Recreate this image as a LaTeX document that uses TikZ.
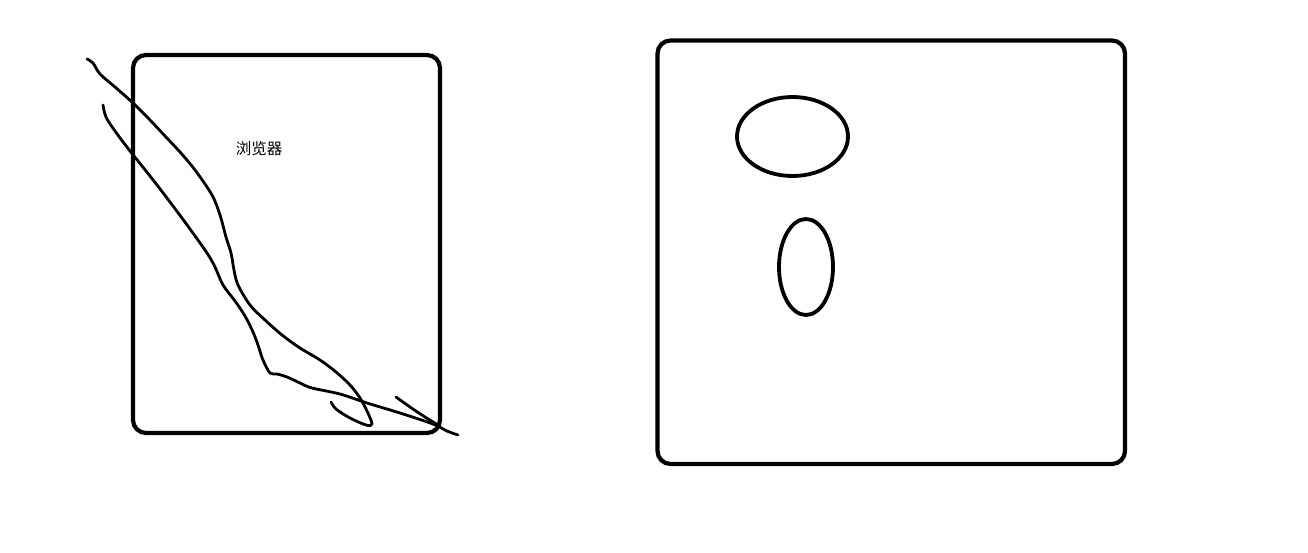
\documentclass[tikz,border=0pt]{standalone}
\usepackage{fontspec}
\newfontfamily\cjk{Noto Sans CJK SC}
\begin{document}
\begin{tikzpicture}[x=1pt,y=-1pt,
  frame/.style={draw=black,line width=4.2pt,rounded corners=13pt},
  scribble/.style={draw=black,line width=2.8pt,line cap=round,line join=round},
  lbl/.style={font=\cjk\fontsize{15.5}{17}\selectfont,inner sep=0pt}]
\useasboundingbox (0,0) rectangle (1308,552);
\fill[white] (0,0) rectangle (1308,552);
% left frame
\draw[frame] (133,55) rectangle (440,433);
\node[lbl] (browser) at (259,148.5) {浏览器};
% right frame
\draw[frame] (657.5,40.5) rectangle (1125,464);
\draw[line width=3.8pt] (792.5,136.5) ellipse [x radius=55.5, y radius=39.5];
\draw[line width=3.8pt] (806,267) ellipse [x radius=27, y radius=48];
% scribbles
\draw[scribble] plot[smooth,tension=0.55] coordinates {
 (87,59) (93,63) (100,74) (115,87) (133,103) (150,120) (165,136) (180,152)
 (195,170) (212,195) (220,215) (226,237) (231,253) (234,270) (238,285)
 (250,305) (265,320) (282,335) (300,348) (320,360) (336,372) (350,385)
 (360,398) (367,411) (372,424) (366,425) (350,418) (336,409) (331,402)};
\draw[scribble] plot[smooth,tension=0.55] coordinates {
 (103,105) (106,117) (115,131) (130,151) (150,176) (170,202) (190,229)
 (207,253) (215,267) (223,285) (235,301) (245,316) (253,332) (258,345)
 (263,360) (270,373) (277,374) (287,377) (300,383) (312,388) (340,394)
 (367,403) (400,413) (433,424) (447,431) (458,435)};
\draw[scribble] plot[smooth,tension=0.55] coordinates {
 (396,397) (410,407) (425,417) (438,425)};
\end{tikzpicture}
\end{document}
